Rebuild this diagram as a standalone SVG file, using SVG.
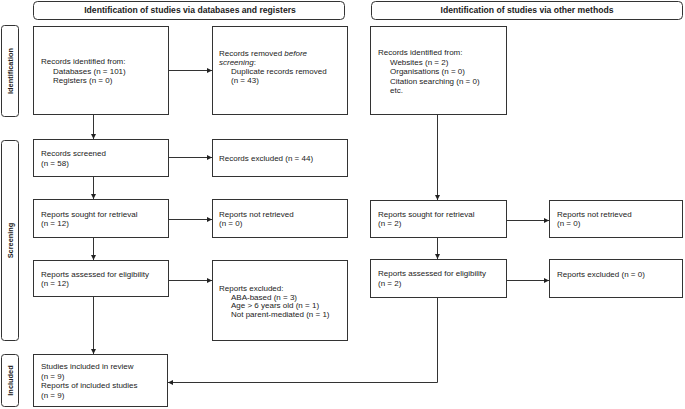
<svg xmlns="http://www.w3.org/2000/svg" width="685" height="409" viewBox="0 0 685 409">
<style>
.box{fill:#fff;stroke:#333;stroke-width:1}
.hdr{fill:#fff;stroke:#333;stroke-width:1}
.t{font-family:"Liberation Sans",Arial,sans-serif;font-size:8px;fill:#222}
.b{font-family:"Liberation Sans",Arial,sans-serif;font-size:8.6px;font-weight:bold;fill:#222}
.s{font-family:"Liberation Sans",Arial,sans-serif;font-size:7.4px;font-weight:bold;fill:#222}
.c{fill:none;stroke:#333;stroke-width:1}
</style>
<defs>
<marker id="ah" markerWidth="6" markerHeight="6" refX="5" refY="2.5" orient="auto" markerUnits="userSpaceOnUse">
<path d="M0,0 L5,2.5 L0,5 z" fill="#222"/>
</marker>
</defs>
<rect width="685" height="409" fill="#fff"/>
<g id="header-db"><rect class="hdr" x="33.5" y="1.5" width="311" height="18" rx="4"/><text class="b" x="190" y="13.4" text-anchor="middle">Identification of studies via databases and registers</text></g>
<g id="header-other"><rect class="hdr" x="371.5" y="1.5" width="311" height="18" rx="4"/><text class="b" x="527" y="13.4" text-anchor="middle">Identification of studies via other methods</text></g>
<g id="label-identification"><rect class="hdr" x="1.5" y="25.5" width="17" height="91" rx="3"/><text class="s" transform="translate(12.6,71) rotate(-90)" text-anchor="middle">Identification</text></g>
<g id="label-screening"><rect class="hdr" x="1.5" y="140.5" width="17" height="200" rx="3"/><text class="s" transform="translate(12.6,240.5) rotate(-90)" text-anchor="middle">Screening</text></g>
<g id="label-included"><rect class="hdr" x="1.5" y="354.5" width="17" height="52" rx="3"/><text class="s" transform="translate(12.6,380.5) rotate(-90)" text-anchor="middle">Included</text></g>

<g id="records-db"><rect class="box" x="33.5" y="26.5" width="135" height="88"/>
<text class="t" x="41" y="63.8">Records identified from:</text>
<text class="t" x="53" y="73.5">Databases (n = 101)</text>
<text class="t" x="53" y="83">Registers (n = 0)</text></g>
<g id="records-removed"><rect class="box" x="212.5" y="26.5" width="135" height="88"/>
<text class="t" x="219" y="56">Records removed <tspan font-style="italic">before</tspan></text>
<text class="t" x="219" y="65" font-style="italic">screening<tspan font-style="normal">:</tspan></text>
<text class="t" x="231" y="74">Duplicate records removed</text>
<text class="t" x="231" y="83">(n = 43)</text></g>
<g id="records-other"><rect class="box" x="370.5" y="26.5" width="136" height="88"/>
<text class="t" x="378" y="55.3">Records identified from:</text>
<text class="t" x="390" y="64.8">Websites (n = 2)</text>
<text class="t" x="390" y="74.3">Organisations (n = 0)</text>
<text class="t" x="390" y="83.8">Citation searching (n = 0)</text>
<text class="t" x="390" y="93.3">etc.</text></g>
<g id="screened"><rect class="box" x="33.5" y="139.5" width="135" height="37"/>
<text class="t" x="41" y="156.3">Records screened</text>
<text class="t" x="41" y="165.8">(n = 58)</text></g>
<g id="excluded"><rect class="box" x="212.5" y="139.5" width="135" height="37"/>
<text class="t" x="219" y="160.8">Records excluded (n = 44)</text></g>
<g id="sought-db"><rect class="box" x="33.5" y="199.5" width="135" height="38"/>
<text class="t" x="41" y="216.8">Reports sought for retrieval</text>
<text class="t" x="41" y="226.3">(n = 12)</text></g>
<g id="notretrieved-db"><rect class="box" x="212.5" y="199.5" width="135" height="38"/>
<text class="t" x="219" y="216.8">Reports not retrieved</text>
<text class="t" x="219" y="226.3">(n = 0)</text></g>
<g id="assessed-db"><rect class="box" x="33.5" y="260.5" width="135" height="36"/>
<text class="t" x="41" y="276.8">Reports assessed for eligibility</text>
<text class="t" x="41" y="286.3">(n = 12)</text></g>
<g id="reports-excluded-db"><rect class="box" x="212.5" y="260.5" width="135" height="80"/>
<text class="t" x="219" y="290.8">Reports excluded:</text>
<text class="t" x="231" y="299.8">ABA-based (n = 3)</text>
<text class="t" x="231" y="308.3">Age &gt; 6 years old (n = 1)</text>
<text class="t" x="231" y="316.8">Not parent-mediated (n = 1)</text></g>
<g id="included"><rect class="box" x="33.5" y="354.5" width="134" height="52"/>
<text class="t" x="41" y="369.3">Studies included in review</text>
<text class="t" x="41" y="378.8">(n = 9)</text>
<text class="t" x="41" y="388.3">Reports of included studies</text>
<text class="t" x="41" y="397.8">(n = 9)</text></g>
<g id="sought-other"><rect class="box" x="370.5" y="200.5" width="136" height="37"/>
<text class="t" x="378" y="216.8">Reports sought for retrieval</text>
<text class="t" x="378" y="226.3">(n = 2)</text></g>
<g id="notretrieved-other"><rect class="box" x="549.5" y="200.5" width="133" height="37"/>
<text class="t" x="557" y="216.8">Reports not retrieved</text>
<text class="t" x="557" y="226.3">(n = 0)</text></g>
<g id="assessed-other"><rect class="box" x="370.5" y="259.5" width="136" height="38"/>
<text class="t" x="378" y="276.3">Reports assessed for eligibility</text>
<text class="t" x="378" y="285.8">(n = 2)</text></g>
<g id="reports-excluded-other"><rect class="box" x="549.5" y="259.5" width="133" height="38"/>
<text class="t" x="557" y="277.3">Reports excluded (n = 0)</text></g>

<g id="connectors">
<path class="c" d="M93.5,115 V139" marker-end="url(#ah)"/>
<path class="c" d="M169,70.5 H212" marker-end="url(#ah)"/>
<path class="c" d="M93.5,177 V199" marker-end="url(#ah)"/>
<path class="c" d="M169,157.5 H212" marker-end="url(#ah)"/>
<path class="c" d="M93.5,238 V260" marker-end="url(#ah)"/>
<path class="c" d="M169,219.5 H212" marker-end="url(#ah)"/>
<path class="c" d="M169,280.5 H212" marker-end="url(#ah)"/>
<path class="c" d="M93.5,297 V354" marker-end="url(#ah)"/>
<path class="c" d="M437.5,115 V200" marker-end="url(#ah)"/>
<path class="c" d="M507,220.5 H549" marker-end="url(#ah)"/>
<path class="c" d="M437.5,238 V259" marker-end="url(#ah)"/>
<path class="c" d="M507,280.5 H549" marker-end="url(#ah)"/>
<path class="c" d="M437.5,298 V382.5 H168" marker-end="url(#ah)"/>
</g>
</svg>
